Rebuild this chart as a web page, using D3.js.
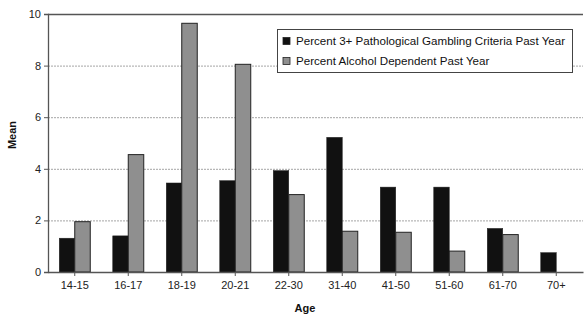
<!DOCTYPE html>
<html>
<head>
<meta charset="utf-8">
<script src="https://cdn.jsdelivr.net/npm/d3@7"></script>
<style>
  body { margin: 0; background: #fff; }
  text { font-family: Arial, "Liberation Sans", sans-serif; }
</style>
</head>
<body>
<script>
// data
var ages = ["14-15", "16-17", "18-19", "20-21", "22-30", "31-40", "41-50", "51-60", "61-70", "70+"];
var gambling = [1.31, 1.4, 3.45, 3.54, 3.93, 5.22, 3.29, 3.29, 1.69, 0.75];
var alcohol = [1.95, 4.55, 9.64, 8.05, 3.0, 1.58, 1.54, 0.81, 1.45, 0];
var yTicks = [0, 2, 4, 6, 8, 10];
var seriesNames = ["Percent 3+ Pathological Gambling Criteria Past Year", "Percent Alcohol Dependent Past Year"];
var seriesColors = ["#111111", "#8f8f8f"];

var margin = {top: 14, right: 1, bottom: 44, left: 48},
    width = 584 - margin.left - margin.right,
    height = 316 - margin.top - margin.bottom;

var svg = d3.select("body").append("svg")
    .attr("width", 584)
    .attr("height", 316)
  .append("g")
    .attr("transform", "translate(" + margin.left + "," + margin.top + ")");

var x = d3.scaleBand().domain(ages).range([0, width]);
var xs = d3.scaleBand().domain([0, 1]).range([0, 31]);
var y = d3.scaleLinear().domain([0, 10]).range([height, 0]);

// gridlines
svg.selectAll(".grid")
  .data(yTicks.filter(function(d) { return d > 0 && d < 10; }))
  .enter().append("line")
  .attr("x1", 0).attr("x2", width)
  .attr("y1", function(d) { return y(d) + 0.5; })
  .attr("y2", function(d) { return y(d) + 0.5; })
  .attr("stroke", "#a5a5a5")
  .attr("stroke-width", 1)
  .attr("stroke-dasharray", "2,1");

// top frame line
svg.append("line")
  .attr("x1", 0).attr("x2", width)
  .attr("y1", y(10) + 0.5).attr("y2", y(10) + 0.5)
  .attr("stroke", "#555").attr("stroke-width", 1.3);

// bars
var series = [gambling, alcohol];
series.forEach(function(vals, si) {
  svg.selectAll(".bar" + si)
    .data(ages)
    .enter().append("rect")
    .attr("x", function(d) { return x(d) + x.bandwidth() / 2 - 15.5 + xs(si); })
    .attr("width", xs.bandwidth())
    .attr("y", function(d, i) { return y(vals[i]); })
    .attr("height", function(d, i) { return y(0) - y(vals[i]); })
    .attr("fill", seriesColors[si])
    .attr("stroke", "#222")
    .attr("stroke-width", vals === gambling ? 0.5 : 1);
});

// y axis
var yAxis = svg.append("g")
  .call(d3.axisLeft(y).tickValues(yTicks).tickSize(4).tickFormat(d3.format("d")));
yAxis.select(".domain").attr("stroke", "#555").attr("stroke-width", 1.3);
yAxis.selectAll(".tick line").attr("stroke", "#555");
yAxis.selectAll("text").attr("font-size", "11px").attr("fill", "#222");

// x axis
var xAxis = svg.append("g")
  .attr("transform", "translate(0," + height + ")")
  .call(d3.axisBottom(x).tickSize(4).tickSizeOuter(0));
xAxis.select(".domain").attr("stroke", "#555").attr("stroke-width", 1.3);
xAxis.selectAll(".tick line").attr("stroke", "#555");
xAxis.selectAll("text").attr("font-size", "11px").attr("fill", "#222").attr("dy", "0.9em");

// axis titles
svg.append("text")
  .attr("transform", "translate(" + (-32) + "," + (121) + ") rotate(-90)")
  .attr("text-anchor", "middle")
  .attr("font-size", "11px")
  .attr("font-weight", "bold")
  .attr("fill", "#111")
  .text("Mean");

svg.append("text")
  .attr("x", 257)
  .attr("y", height + 40)
  .attr("text-anchor", "middle")
  .attr("font-size", "11px")
  .attr("font-weight", "bold")
  .attr("fill", "#111")
  .text("Age");

// legend
var legend = svg.append("g").attr("transform", "translate(" + (277 - margin.left) + "," + (29 - margin.top) + ")");
legend.append("rect")
  .attr("x", 0.5).attr("y", 0.5)
  .attr("width", 295).attr("height", 43)
  .attr("fill", "#fff")
  .attr("stroke", "#444").attr("stroke-width", 1);
seriesNames.forEach(function(name, i) {
  var row = legend.append("g").attr("transform", "translate(6," + (12 + i * 20) + ")");
  row.append("rect")
    .attr("x", 0).attr("y", -3.5)
    .attr("width", 7).attr("height", 7)
    .attr("fill", seriesColors[i])
    .attr("stroke", "#222").attr("stroke-width", 0.8);
  row.append("text")
    .attr("x", 13).attr("y", 4)
    .attr("font-size", "11.6px")
    .attr("fill", "#111")
    .text(name);
});
</script>
</body>
</html>
